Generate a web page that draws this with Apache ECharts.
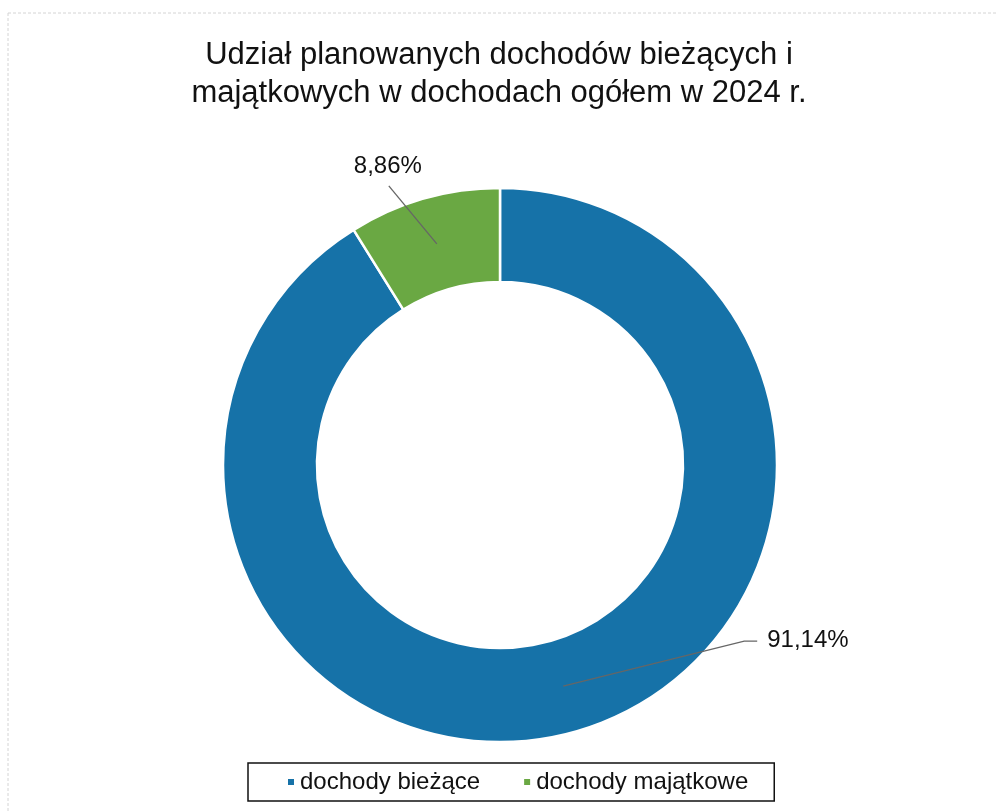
<!DOCTYPE html>
<html>
<head>
<meta charset="utf-8">
<script src="https://cdn.jsdelivr.net/npm/echarts@6/dist/echarts.min.js"></script>
<style>
html,body{margin:0;padding:0;background:#fff;}
#main{width:998px;height:812px;}
</style>
</head>
<body>
<div id="main"></div>
<script>
const categories = ['dochody bieżące', 'dochody majątkowe'];
const values = [91.14, 8.86];
const labels = ['91,14%', '8,86%'];
const colors = ['#1672a8', '#6aa843'];

const pieData = categories.map((c, i) => ({ name: c, value: values[i], itemStyle: { color: colors[i] } }));
const ghostData = categories.map((c, i) => ({ name: c, value: values[i], label: { formatter: labels[i] } }));

const chart = echarts.init(document.getElementById('main'));
chart.setOption({
  backgroundColor: '#fff',
  animation: false,
  title: {
    text: 'Udział planowanych dochodów bieżących i\nmajątkowych w dochodach ogółem w 2024 r.',
    left: 'center',
    top: 31,
    textStyle: { fontFamily: 'Liberation Sans, Arial, sans-serif', fontSize: 31, fontWeight: 'normal', color: '#111', lineHeight: 38, align: 'center' }
  },
  legend: {
    data: categories,
    bottom: 11,
    left: 248,
    icon: 'rect',
    itemWidth: 8,
    itemHeight: 8,
    itemGap: 42,
    padding: [7, 26, 7, 38],
    borderColor: '#111',
    borderWidth: 1.5,
    textStyle: { fontFamily: 'Liberation Sans, Arial, sans-serif', fontSize: 24, color: '#111' }
  },
  graphic: [
    { type: 'line', silent: true, shape: { x1: 8, y1: 13, x2: 998, y2: 13 }, style: { stroke: '#d4d4d4', lineWidth: 1, lineDash: [3, 2] } },
    { type: 'line', silent: true, shape: { x1: 8, y1: 13, x2: 8, y2: 812 }, style: { stroke: '#d4d4d4', lineWidth: 1, lineDash: [3, 2] } }
  ],
  series: [
    {
      type: 'pie',
      z: 1,
      center: [500, 465],
      radius: [183, 277],
      startAngle: 90,
      clockwise: true,
      silent: true,
      itemStyle: { borderColor: '#fff', borderWidth: 2.5 },
      label: { show: false },
      labelLine: { show: false },
      data: pieData
    },
    {
      type: 'pie',
      z: 5,
      center: [500, 465],
      radius: [0, 230],
      startAngle: 90,
      clockwise: true,
      silent: true,
      legendHoverLink: false,
      itemStyle: { color: 'rgba(0,0,0,0)', borderWidth: 0 },
      label: {
        show: true,
        position: 'outside',
        fontFamily: 'Liberation Sans, Arial, sans-serif',
        fontSize: 24,
        color: '#111'
      },
      labelLine: { show: true, length: 10, length2: 10, lineStyle: { color: '#666', width: 1.3 } },
      labelLayout: function (params) {
        const pts = params.labelLinePoints;
        if (!pts || !pts.length) return {};
        const p0 = pts[0];
        if (params.dataIndex === 0) {
          return {
            x: p0[0] + 204, y: p0[1] - 46, align: 'left', verticalAlign: 'middle',
            labelLinePoints: [[p0[0], p0[1]], [p0[0] + 181, p0[1] - 45], [p0[0] + 194, p0[1] - 45]]
          };
        }
        return {
          x: p0[0] - 49, y: p0[1] - 65, align: 'center', verticalAlign: 'bottom',
          labelLinePoints: [[p0[0], p0[1]], [p0[0] - 48, p0[1] - 58]]
        };
      },
      data: ghostData
    }
  ]
});
</script>
</body>
</html>
